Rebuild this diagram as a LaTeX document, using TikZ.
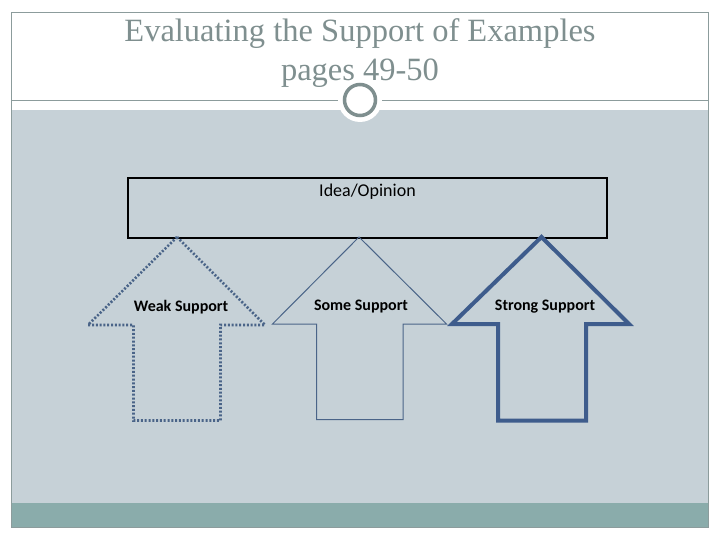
\documentclass[tikz,border=0pt]{standalone}
\usepackage{fontspec}
\setmainfont{Liberation Serif}
\newfontfamily\calibri{Carlito}
\usepackage{xcolor}
\usepackage{tikz}
\usetikzlibrary{positioning, calc}

\definecolor{panelgray}{HTML}{C6D1D7}
\definecolor{bandteal}{HTML}{8AACAB}
\definecolor{framegray}{HTML}{8C9C9C}
\definecolor{titlegray}{HTML}{7F8F8F}
\definecolor{arrowblue}{HTML}{4A6488}
\definecolor{strongblue}{HTML}{3E5C8C}

\begin{document}
\begin{tikzpicture}[
    x=1pt, y=-1pt,
    titletext/.style={font=\fontsize{32.5}{39}\selectfont, text=titlegray, align=center},
    ideabox/.style={rectangle, draw=black, line width=2pt, minimum width=479pt, minimum height=60pt, anchor=north west, inner sep=0pt},
    lbl/.style={font=\calibri\fontsize{18}{20}\selectfont, text=black},
    lblbold/.style={font=\calibri\bfseries\fontsize{16}{18}\selectfont, text=black},
    % --- arrow outlines ---
    weakarrow/.style={draw=arrowblue, line width=2.6pt, dash pattern=on 2pt off 1.8pt},
    somearrow/.style={draw=arrowblue, line width=1pt},
    strongarrow/.style={draw=strongblue, line width=4pt, line join=miter}
]
\useasboundingbox (0,0) rectangle (720,540);

% Slide background
\fill[white] (0,0) rectangle (720,540);
\fill[panelgray] (11,110) rectangle (708,503);
\fill[bandteal] (11,503) rectangle (708,527);
\draw[framegray, line width=0.8pt] (11,12) rectangle (708,527);
\draw[framegray, line width=0.8pt] (11,100) -- (708,100);

% Title
\node[titletext] (title) at (360,53) {Evaluating the Support of Examples\\pages 49-50};

% Ornament circle
\fill[white] (360,100) circle (22);
\draw[titlegray, line width=3.5pt] (360,100) circle (15.5);

% Idea / Opinion box
\node[ideabox] (idea) at (127,177) {};
\node[lbl, below=3pt of idea.north] (idealbl) {Idea/Opinion};

% Arrow tips on the box
\coordinate (weaktip) at (177,237);
\coordinate (sometip) at (359,237);
\coordinate (strongtip) at (541.5,237);

% Weak support (dotted)
\draw[weakarrow] (weaktip) -- (88,325) -- (133.5,325) -- (133.5,420.5)
    -- (220.5,420.5) -- (220.5,325) -- (265,325) -- cycle;
% Some support (thin)
\draw[somearrow] (sometip) -- (272.5,324) -- (316.5,324) -- (316.5,419.5)
    -- (403,419.5) -- (403,324) -- (446.5,324) -- cycle;
% Strong support (thick)
\draw[strongarrow] (strongtip) -- (452,324) -- (498,324) -- (498,420.5)
    -- (586,420.5) -- (586,324) -- (629,324) -- cycle;

% Labels
\node[lblbold] (weak) at (181,307) {Weak Support};
\node[lblbold] (some) at (361,307) {Some Support};
\node[lblbold] (strong) at (545,307) {Strong Support};

\end{tikzpicture}
\end{document}
